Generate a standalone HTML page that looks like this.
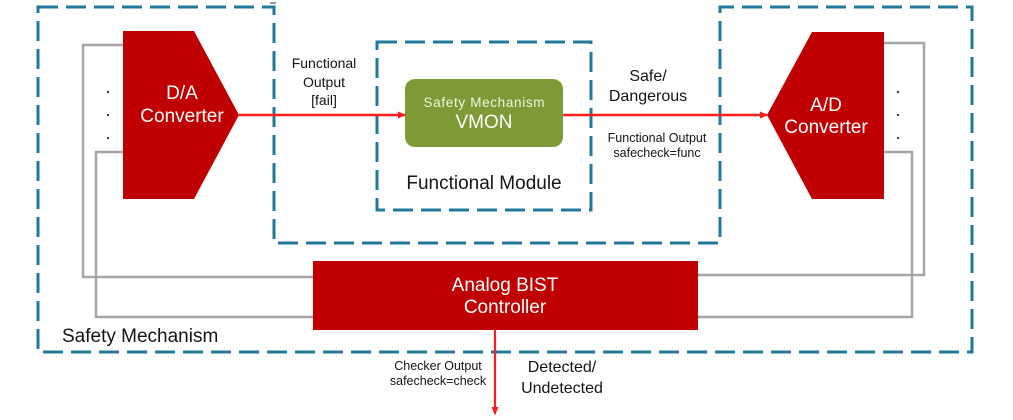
<!DOCTYPE html>
<html>
<head>
<meta charset="utf-8">
<style>
html,body{margin:0;padding:0;background:#fff;}
svg{display:block;}
text{font-family:"Liberation Sans",Arial,sans-serif;}
</style>
</head>
<body>
<svg width="1013" height="420" viewBox="0 0 1013 420" xmlns="http://www.w3.org/2000/svg">
  <defs>
    <marker id="ah" markerWidth="8" markerHeight="8" refX="7" refY="4" orient="auto" markerUnits="userSpaceOnUse">
      <path d="M0,0.5 L8,4 L0,7.5 Z" fill="#f81e1e"/>
    </marker>
  </defs>

  <!-- outer safety mechanism dashed outline -->
  <path d="M38,7 H274 V243 H720 V7 H972 V352 H38 Z" fill="none" stroke="#23789a" stroke-width="3" stroke-dasharray="20 8"/>
  <line x1="270" y1="3" x2="276" y2="3" stroke="#333" stroke-width="1"/>

  <!-- functional module dashed box -->
  <rect x="377" y="42" width="214" height="168" fill="none" stroke="#23789a" stroke-width="3" stroke-dasharray="20 8"/>

  <!-- gray feedback lines -->
  <g fill="none" stroke="#a6a6a6" stroke-width="2.5">
    <path d="M125,45 H83 V277 H315"/>
    <path d="M125,152 H96 V317 H315"/>
    <path d="M882,43 H924 V275 H696"/>
    <path d="M882,152 H912 V317 H696"/>
  </g>

  <!-- D/A converter -->
  <polygon points="123,31 194,31 239,115 194,199 123,199" fill="#c00000"/>
  <text x="182" y="99" font-size="19" fill="#fff" text-anchor="middle">D/A</text>
  <text x="182" y="122" font-size="19" fill="#fff" text-anchor="middle">Converter</text>

  <!-- A/D converter -->
  <polygon points="812,32 884,32 884,199 812,199 767,115" fill="#c00000"/>
  <text x="826" y="111" font-size="19" fill="#fff" text-anchor="middle">A/D</text>
  <text x="826" y="133" font-size="19" fill="#fff" text-anchor="middle">Converter</text>

  <!-- dots -->
  <g fill="#222">
    <circle cx="108" cy="92" r="1.1"/>
    <circle cx="108" cy="115" r="1.1"/>
    <circle cx="108" cy="138" r="1.1"/>
    <circle cx="898" cy="92" r="1.1"/>
    <circle cx="898" cy="115" r="1.1"/>
    <circle cx="898" cy="138" r="1.1"/>
  </g>

  <!-- VMON -->
  <rect x="405" y="79" width="158" height="68" rx="10" ry="10" fill="#7c9b36"/>
  <text x="484" y="107" font-size="13.5" fill="#eef3e0" text-anchor="middle" textLength="121">Safety Mechanism</text>
  <text x="484" y="128" font-size="19" fill="#fff" text-anchor="middle">VMON</text>

  <!-- red signal lines -->
  <line x1="239" y1="115" x2="405" y2="115" stroke="#f81e1e" stroke-width="2.5" marker-end="url(#ah)"/>
  <line x1="563" y1="115" x2="767" y2="115" stroke="#f81e1e" stroke-width="2.5" marker-end="url(#ah)"/>

  <!-- BIST controller -->
  <rect x="313" y="261" width="385" height="69" fill="#c00000"/>
  <text x="505" y="291" font-size="19" fill="#fff" text-anchor="middle">Analog BIST</text>
  <text x="505" y="313" font-size="19" fill="#fff" text-anchor="middle">Controller</text>
  <line x1="495" y1="330" x2="495" y2="414" stroke="#f81e1e" stroke-width="2.2" marker-end="url(#ah)"/>

  <!-- labels -->
  <g fill="#151515" text-anchor="middle">
    <text x="324" y="68" font-size="14">Functional</text>
    <text x="324" y="87" font-size="14">Output</text>
    <text x="324" y="105" font-size="14">[fail]</text>

    <text x="648" y="81" font-size="16">Safe/</text>
    <text x="648" y="101" font-size="16">Dangerous</text>

    <text x="657" y="142" font-size="12.5">Functional Output</text>
    <text x="657" y="157" font-size="12.5">safecheck=func</text>

    <text x="484" y="189" font-size="19">Functional Module</text>

    <text x="438" y="370" font-size="12.5">Checker Output</text>
    <text x="438" y="385" font-size="12.5">safecheck=check</text>

    <text x="562" y="372" font-size="16">Detected/</text>
    <text x="562" y="393" font-size="16">Undetected</text>
  </g>
  <text x="62" y="342" font-size="19" fill="#151515">Safety Mechanism</text>
</svg>
</body>
</html>
